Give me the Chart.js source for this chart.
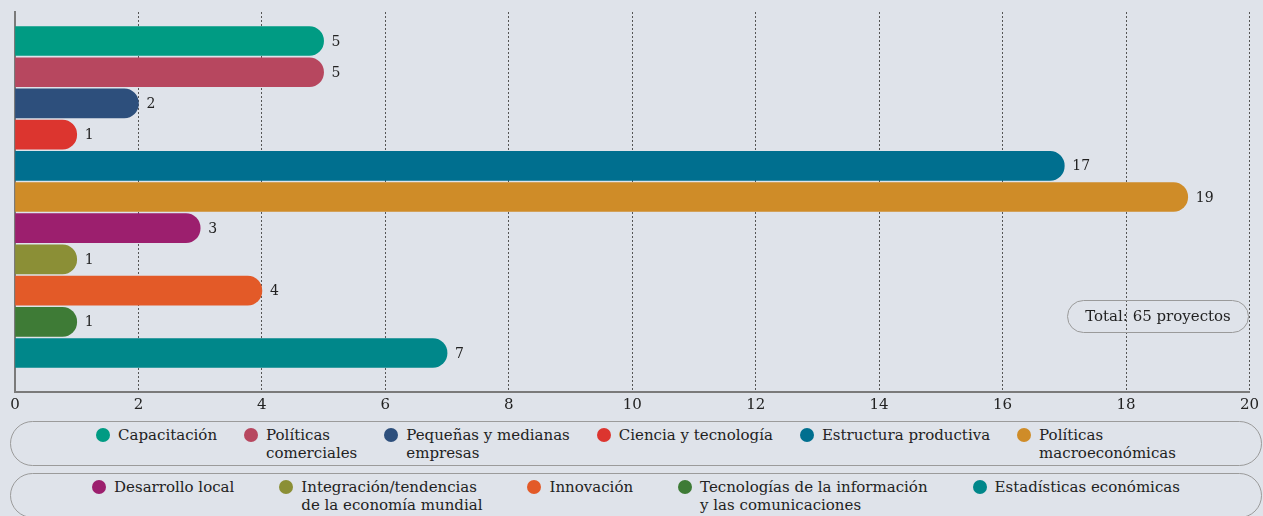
<!DOCTYPE html>
<html>
<head>
<meta charset="utf-8">
<script src="https://cdn.jsdelivr.net/npm/chart.js@4.4.1/dist/chart.umd.min.js"></script>
<style>
  body { margin: 0; background: #dfe3ea; font-family: "DejaVu Serif", serif; color: #222; }
  #wrap { position: relative; width: 1263px; height: 418px; }
  #total {
    position: absolute; left: 1067px; top: 300px; width: 180px; height: 31px;
    border: 1px solid #9a9a9a; border-radius: 17px;
    font-size: 15px; line-height: 31px; text-align: center;
  }
  #legend { margin-top: 3px; }
  .row {
    margin: 0 1px 7px 10px; height: 45px; box-sizing: border-box;
    border: 1.5px solid #9b9b9b; border-radius: 23px;
    display: flex; justify-content: center; align-items: flex-start;
    padding-top: 4px; font-size: 15px; line-height: 18px;
  }
  .item { display: flex; align-items: flex-start; }
  .dot { width: 14px; height: 14px; border-radius: 50%; margin: 2px 8px 0 0; flex: none; }
</style>
</head>
<body>
<div id="wrap">
  <canvas id="chart" width="1263" height="418"></canvas>
  <div id="total"></div>
</div>
<div id="legend"></div>

<script>
// data
const categories = [
  'Capacitación',
  'Políticas comerciales',
  'Pequeñas y medianas empresas',
  'Ciencia y tecnología',
  'Estructura productiva',
  'Políticas macroeconómicas',
  'Desarrollo local',
  'Integración/tendencias de la economía mundial',
  'Innovación',
  'Tecnologías de la información y las comunicaciones',
  'Estadísticas económicas'
];
const projectCounts = [5, 5, 2, 1, 17, 19, 3, 1, 4, 1, 7];
const barColors = [
  '#009b83', '#b7475f', '#2d4f7c', '#dc352f', '#006f8f', '#cf8c28',
  '#9c1f6e', '#8b8f36', '#e35a28', '#3e7b36', '#00878a'
];
// how legend labels break into lines
const legendLines = [
  ['Capacitación'],
  ['Políticas', 'comerciales'],
  ['Pequeñas y medianas', 'empresas'],
  ['Ciencia y tecnología'],
  ['Estructura productiva'],
  ['Políticas', 'macroeconómicas'],
  ['Desarrollo local'],
  ['Integración/tendencias', 'de la economía mundial'],
  ['Innovación'],
  ['Tecnologías de la información', 'y las comunicaciones'],
  ['Estadísticas económicas']
];
const legendRowSizes = [6, 5];
const totalLabel = 'Total: 65 proyectos';

document.getElementById('total').textContent = totalLabel;

// html legend, two pill rows
const legendEl = document.getElementById('legend');
const rowGaps = [27, 45];
let k = 0;
legendRowSizes.forEach((n, r) => {
  const row = document.createElement('div');
  row.className = 'row';
  row.style.gap = rowGaps[r] + 'px';
  for (let j = 0; j < n; j++, k++) {
    const item = document.createElement('div');
    item.className = 'item';
    item.innerHTML = '<span class="dot" style="background:' + barColors[k] + '"></span><span>' +
      legendLines[k].join('<br>') + '</span>';
    row.appendChild(item);
  }
  legendEl.appendChild(row);
});

const valueLabels = {
  id: 'valueLabels',
  afterDatasetsDraw(chart) {
    const ctx = chart.ctx;
    const meta = chart.getDatasetMeta(0);
    ctx.save();
    ctx.font = '14px "DejaVu Serif"';
    ctx.fillStyle = '#222';
    ctx.textBaseline = 'middle';
    meta.data.forEach((bar, i) => {
      ctx.fillText(projectCounts[i], bar.x + 8, bar.y + 1);
    });
    ctx.restore();
  }
};

new Chart(document.getElementById('chart'), {
  type: 'bar',
  data: {
    datasets: [{
      label: 'Proyectos',
      data: projectCounts.map((v, i) => ({ x: v, y: i })),
      backgroundColor: barColors,
      borderRadius: { topLeft: 0, bottomLeft: 0, topRight: 40, bottomRight: 40 },
      borderSkipped: 'start',
      barPercentage: 1,
      categoryPercentage: 1
    }]
  },
  options: {
    indexAxis: 'y',
    responsive: false,
    animation: false,
    events: [],
    layout: { padding: { left: 15, right: 12, top: 12, bottom: 0 } },
    plugins: {
      legend: { display: false },
      tooltip: { enabled: false }
    },
    scales: {
      x: {
        type: 'linear',
        min: 0,
        max: 20,
        ticks: {
          stepSize: 2,
          padding: 4,
          color: '#222',
          font: { family: 'DejaVu Serif', size: 15 }
        },
        grid: { color: '#555', lineWidth: 1, drawTicks: false },
        border: { color: '#7a7a7a', width: 2, dash: [2, 2] }
      },
      y: {
        type: 'linear',
        reverse: true,
        offset: false,
        min: -0.93,
        max: 11.25,
        ticks: { display: false },
        grid: { display: false, drawTicks: false, offset: false },
        border: { color: '#7a7a7a', width: 2 },
        afterFit: s => { s.width = 0; }
      }
    }
  },
  plugins: [valueLabels]
});
</script>
</body>
</html>
